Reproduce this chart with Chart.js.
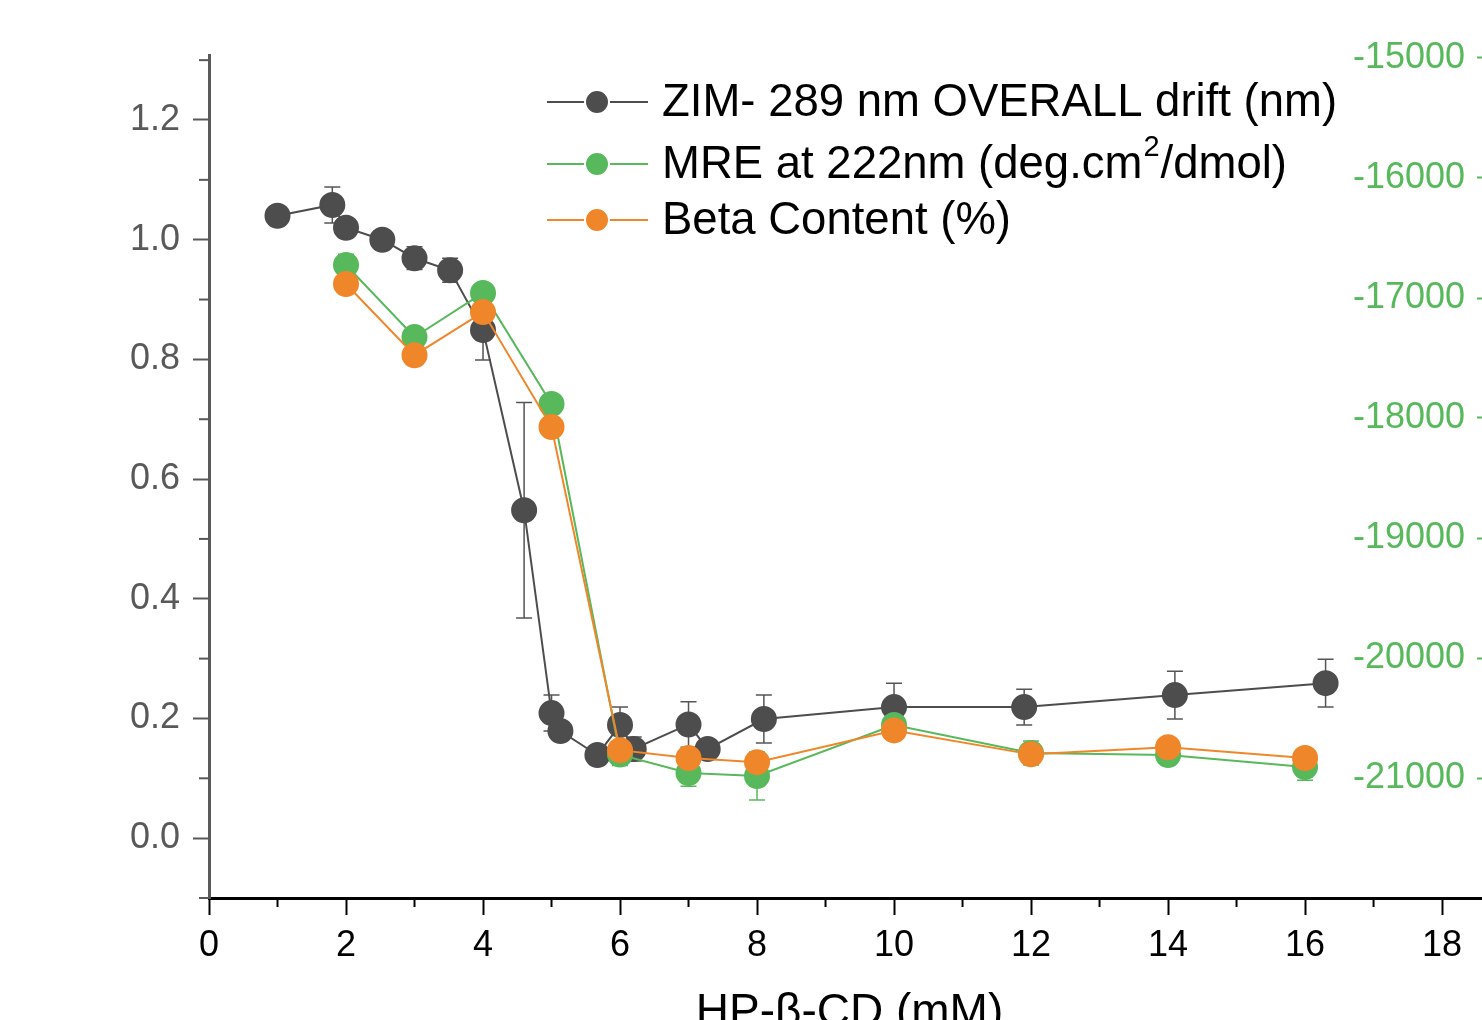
<!DOCTYPE html>
<html lang="en">
<head>
<meta charset="UTF-8">
<title>HP-β-CD titration</title>
<script src="https://cdn.jsdelivr.net/npm/chart.js"></script>
<style>
  html, body { margin: 0; padding: 0; background: #fff; overflow: hidden; }
  canvas { display: block; }
</style>
</head>
<body>
<canvas id="myChart" width="1520" height="1020"></canvas>
<script>
// ZIM drift, left axis
const zimX = [1.0, 1.8, 2.0, 2.53, 3.0, 3.52, 4.0, 4.6, 5.0, 5.13, 5.67, 6.0, 6.2, 7.0, 7.28, 8.1, 10.0, 11.9, 14.1, 16.3];
const zimY = [1.04, 1.058, 1.02, 1.0, 0.969, 0.949, 0.849, 0.548, 0.209, 0.179, 0.139, 0.189, 0.149, 0.19, 0.149, 0.199, 0.219, 0.219, 0.239, 0.259];
const zimErr = [0, 0.03, 0, 0, 0.019, 0.02, 0.05, 0.18, 0.03, 0, 0, 0.03, 0.02, 0.038, 0, 0.04, 0.04, 0.03, 0.04, 0.04];

// MRE at 222 nm, right axis
const mreX = [2, 3, 4, 5, 6, 7, 8, 10, 12, 14, 16];
const mreY = [-16725, -17325, -16958, -17883, -20805, -20958, -20983, -20558, -20792, -20808, -20908];
const mreErr = [90, 0, 0, 0, 90, 110, 200, 0, 100, 0, 110];

// Beta content (own axis, not shown)
const betaX = [2, 3, 4, 5, 6, 7, 8, 10, 12, 14, 16];
const betaY = [0.926, 0.807, 0.879, 0.687, 0.147, 0.134, 0.127, 0.180, 0.140, 0.152, 0.134];

const xTicks = [0, 2, 4, 6, 8, 10, 12, 14, 16, 18];
const xMinor = [1, 3, 5, 7, 9, 11, 13, 15, 17];
const leftTicks = [0, 0.2, 0.4, 0.6, 0.8, 1.0, 1.2];
const leftMinor = [-0.1, 0.1, 0.3, 0.5, 0.7, 0.9, 1.1, 1.3];
const rightTicks = [-21000, -20000, -19000, -18000, -17000, -16000, -15000];

const GREY = '#4d4d4d';
const GREEN = '#58b85c';
const ORANGE = '#f0862a';
const FONT = "'Liberation Sans', Arial, sans-serif";

const toPoints = (xs, ys) => xs.map((x, i) => ({ x: x, y: ys[i] }));

// error bars, drawn under the markers
const errorBars = {
  id: 'errorBars',
  beforeDatasetsDraw(chart) {
    const ctx = chart.ctx;
    chart.data.datasets.forEach((ds, i) => {
      if (!ds.errorBars) return;
      const meta = chart.getDatasetMeta(i);
      const yScale = chart.scales[meta.yAxisID];
      ctx.save();
      ctx.strokeStyle = ds.errorColor;
      ctx.lineWidth = 1.5;
      meta.data.forEach((pt, j) => {
        const e = ds.errorBars[j];
        if (!e) return;
        const v = ds.data[j].y;
        const yTop = yScale.getPixelForValue(v + e);
        const yBot = yScale.getPixelForValue(v - e);
        ctx.beginPath();
        ctx.moveTo(pt.x, yTop);
        ctx.lineTo(pt.x, yBot);
        ctx.moveTo(pt.x - 8, yTop);
        ctx.lineTo(pt.x + 8, yTop);
        ctx.moveTo(pt.x - 8, yBot);
        ctx.lineTo(pt.x + 8, yBot);
        ctx.stroke();
      });
      ctx.restore();
    });
  }
};

// short minor ticks on x and left y
const minorTicks = {
  id: 'minorTicks',
  afterDraw(chart) {
    const ctx = chart.ctx;
    const x = chart.scales.x;
    const y = chart.scales.y;
    const area = chart.chartArea;
    ctx.save();
    ctx.lineWidth = 2;
    ctx.strokeStyle = '#000';
    xMinor.forEach(v => {
      const px = x.getPixelForValue(v);
      ctx.beginPath();
      ctx.moveTo(px, area.bottom);
      ctx.lineTo(px, area.bottom + 9);
      ctx.stroke();
    });
    ctx.strokeStyle = '#595959';
    leftMinor.forEach(v => {
      const py = y.getPixelForValue(v);
      ctx.beginPath();
      ctx.moveTo(area.left - 10, py);
      ctx.lineTo(area.left, py);
      ctx.stroke();
    });
    ctx.restore();
  }
};

// Origin style legend: line - marker - line, then the label
const originLegend = {
  id: 'originLegend',
  afterDraw(chart) {
    const ctx = chart.ctx;
    const rows = [102, 164, 220];
    ctx.save();
    chart.data.datasets.forEach((ds, i) => {
      const yy = rows[i];
      ctx.strokeStyle = ds.borderColor;
      ctx.lineWidth = 2;
      ctx.beginPath();
      ctx.moveTo(547, yy);
      ctx.lineTo(648, yy);
      ctx.stroke();
      ctx.fillStyle = ds.pointBackgroundColor;
      ctx.strokeStyle = '#fff';
      ctx.lineWidth = 2;
      ctx.beginPath();
      ctx.arc(597, yy, 12, 0, Math.PI * 2);
      ctx.fill();
      ctx.stroke();

      ctx.fillStyle = '#000';
      ctx.textBaseline = 'middle';
      ctx.textAlign = 'left';
      let tx = 662;
      const parts = ds.label.split('²');
      parts.forEach((p, k) => {
        ctx.font = '45.5px ' + FONT;
        ctx.fillText(p, tx, yy + 1);
        tx += ctx.measureText(p).width;
        if (k < parts.length - 1) {
          ctx.font = '29px ' + FONT;
          ctx.fillText('2', tx + 1, yy - 16);
          tx += ctx.measureText('2').width + 2;
        }
      });
    });
    ctx.restore();
  }
};

const ctx = document.getElementById('myChart').getContext('2d');
new Chart(ctx, {
  type: 'line',
  data: {
    datasets: [
      {
        label: 'ZIM- 289 nm OVERALL drift (nm)',
        data: toPoints(zimX, zimY),
        errorBars: zimErr,
        errorColor: '#555',
        yAxisID: 'y',
        borderColor: GREY,
        pointBackgroundColor: GREY,
        order: 3
      },
      {
        label: 'MRE at 222nm (deg.cm²/dmol)',
        data: toPoints(mreX, mreY),
        errorBars: mreErr,
        errorColor: GREEN,
        yAxisID: 'y2',
        borderColor: GREEN,
        pointBackgroundColor: GREEN,
        order: 2
      },
      {
        label: 'Beta Content (%)',
        data: toPoints(betaX, betaY),
        yAxisID: 'y3',
        borderColor: ORANGE,
        pointBackgroundColor: ORANGE,
        order: 1
      }
    ]
  },
  options: {
    responsive: false,
    animation: false,
    layout: { padding: { top: 55, left: 0, right: 0, bottom: 0 } },
    elements: {
      line: { borderWidth: 2, tension: 0 },
      point: { radius: 12, hoverRadius: 12, borderWidth: 2, borderColor: '#fff' }
    },
    plugins: {
      legend: { display: false },
      tooltip: { enabled: false }
    },
    scales: {
      x: {
        type: 'linear',
        min: 0,
        max: 18.7,
        afterBuildTicks: s => { s.ticks = xTicks.map(v => ({ value: v })); },
        afterFit: s => { s.height = 122; },
        ticks: {
          color: '#000',
          font: { family: FONT, size: 36 },
          padding: 9,
          callback: v => String(v)
        },
        grid: { drawOnChartArea: false, tickLength: 17, tickColor: '#000', tickWidth: 2 },
        border: { color: '#000', width: 3 },
        title: {
          display: true,
          text: 'HP-β-CD (mM)',
          color: '#000',
          font: { family: FONT, size: 46, lineHeight: 1 },
          padding: { top: 0, bottom: -16 }
        }
      },
      y: {
        position: 'left',
        min: -0.1,
        max: 1.3086,
        afterBuildTicks: s => { s.ticks = leftTicks.map(v => ({ value: v })); },
        afterFit: s => { s.width = 209; },
        ticks: {
          color: '#595959',
          font: { family: FONT, size: 36 },
          padding: 13,
          callback: v => v.toFixed(1)
        },
        grid: { drawOnChartArea: false, tickLength: 16, tickColor: '#595959', tickWidth: 2 },
        border: { color: '#595959', width: 3 }
      },
      y2: {
        position: 'right',
        min: -22000,
        max: -14975,
        afterBuildTicks: s => { s.ticks = rightTicks.map(v => ({ value: v })); },
        afterFit: s => { s.width = 30; },
        ticks: {
          mirror: true,
          padding: -25,
          color: GREEN,
          font: { family: FONT, size: 36 },
          callback: v => String(v)
        },
        grid: { drawOnChartArea: false, tickLength: -13, tickColor: GREEN, tickWidth: 2 },
        border: { color: GREEN, width: 2 }
      },
      y3: {
        display: false,
        min: -0.1,
        max: 1.3086
      }
    }
  },
  plugins: [errorBars, minorTicks, originLegend]
});
</script>
</body>
</html>
